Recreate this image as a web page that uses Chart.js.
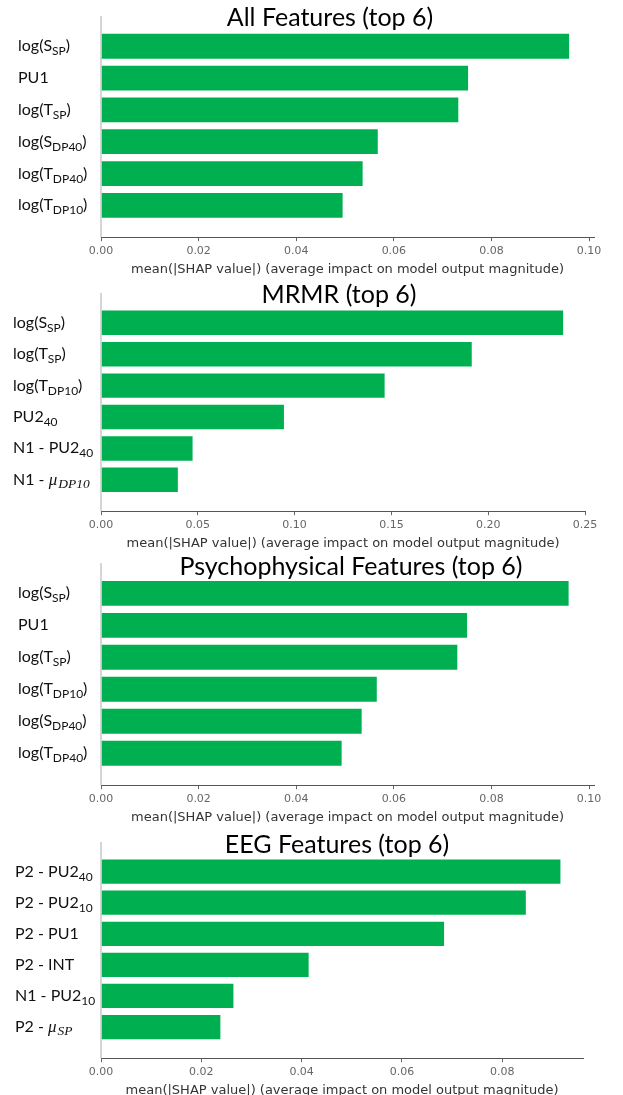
<!DOCTYPE html>
<html lang="en">
<head>
  <meta charset="UTF-8">
  <title>SHAP feature importance (top 6)</title>
  <script src="https://cdn.jsdelivr.net/npm/chart.js"></script>
  <style>
    html, body { margin: 0; padding: 0; background: #fff; }
    .panel { position: absolute; left: 0; width: 623px; }
  </style>
</head>
<body>
  <div class="panel" id="p0"><canvas id="c0"></canvas></div>
  <div class="panel" id="p1"><canvas id="c1"></canvas></div>
  <div class="panel" id="p2"><canvas id="c2"></canvas></div>
  <div class="panel" id="p3"><canvas id="c3"></canvas></div>

  <script>
    // labels use a small markup: _{..} = subscript, $..$ = math italic
    const allLabels = ['log(S_{SP})', 'PU1', 'log(T_{SP})', 'log(S_{DP40})', 'log(T_{DP40})', 'log(T_{DP10})'];
    const allValues = [0.0959, 0.0752, 0.0732, 0.0567, 0.0536, 0.0495];

    const mrmrLabels = ['log(S_{SP})', 'log(T_{SP})', 'log(T_{DP10})', 'PU2_{40}', 'N1 - PU2_{40}', 'N1 - $μ_{DP10}$'];
    const mrmrValues = [0.2387, 0.1915, 0.1465, 0.0945, 0.0473, 0.0397];

    const psychLabels = ['log(S_{SP})', 'PU1', 'log(T_{SP})', 'log(T_{DP10})', 'log(S_{DP40})', 'log(T_{DP40})'];
    const psychValues = [0.0958, 0.0750, 0.0730, 0.0565, 0.0534, 0.0493];

    const eegLabels = ['P2 - PU2_{40}', 'P2 - PU2_{10}', 'P2 - PU1', 'P2 - INT', 'N1 - PU2_{10}', 'P2 - $μ_{SP}$'];
    const eegValues = [0.0916, 0.0847, 0.0684, 0.0414, 0.0264, 0.0238];

    const xAxisTitle = 'mean(|SHAP value|) (average impact on model output magnitude)';

    // layout of each panel on the page (px)
    const panels = [
      { title: 'All Features (top 6)', labels: allLabels, values: allValues, xMax: 0.101, xStep: 0.02,
        top: 0, spineTop: 16, axisY: 238, right: 594, titleX: 330, titleY: 18, labelX: 18 },
      { title: 'MRMR (top 6)', labels: mrmrLabels, values: mrmrValues, xMax: 0.25, xStep: 0.05,
        top: 280, spineTop: 293, axisY: 512, right: 585, titleX: 339, titleY: 295, labelX: 13 },
      { title: 'Psychophysical Features (top 6)', labels: psychLabels, values: psychValues, xMax: 0.101, xStep: 0.02,
        top: 550, spineTop: 563, axisY: 786, right: 594, titleX: 351, titleY: 567, labelX: 18 },
      { title: 'EEG Features (top 6)', labels: eegLabels, values: eegValues, xMax: 0.0961, xStep: 0.02,
        top: 820, spineTop: 842, axisY: 1059, right: 583, titleX: 337, titleY: 845, labelX: 15 }
    ];

    const LABEL_FONT = 'Lato';
    const MATH_FONT = '"Liberation Serif"';
    const X_AXIS_HEIGHT = 39;
    const BOTTOM_PAD = 8;

    function parseLabel(str) {
      const parts = [];
      let buf = '';
      let math = false;
      let i = 0;
      const flush = function () {
        if (buf) parts.push({ text: buf, sub: false, math: math });
        buf = '';
      };
      while (i < str.length) {
        const c = str[i];
        if (c === '$') { flush(); math = !math; i++; continue; }
        if (c === '_' && str[i + 1] === '{') {
          flush();
          const end = str.indexOf('}', i);
          parts.push({ text: str.slice(i + 2, end), sub: true, math: math });
          i = end + 1;
          continue;
        }
        buf += c;
        i++;
      }
      flush();
      return parts;
    }

    function partFont(p) {
      if (p.math) return 'italic ' + (p.sub ? 13.5 : 17) + 'px ' + MATH_FONT;
      return (p.sub ? 12 : 16) + 'px ' + LABEL_FONT;
    }

    // draws title, left spine and the rich y labels
    const decorPlugin = {
      id: 'decor',
      afterDraw(chart, args, opts) {
        const ctx = chart.ctx;
        const area = chart.chartArea;
        const yScale = chart.scales.y;

        ctx.save();
        // left spine
        ctx.strokeStyle = '#c8c8c8';
        ctx.lineWidth = 1.5;
        ctx.beginPath();
        ctx.moveTo(area.left, area.top);
        ctx.lineTo(area.left, area.bottom);
        ctx.stroke();

        // title
        ctx.fillStyle = '#000';
        ctx.font = '25px ' + LABEL_FONT;
        ctx.textAlign = 'center';
        ctx.textBaseline = 'middle';
        ctx.fillText(opts.title, opts.titleX, opts.titleY);

        // y labels
        ctx.textAlign = 'left';
        ctx.textBaseline = 'alphabetic';
        opts.labels.forEach(function (lab, i) {
          const yc = yScale.getPixelForValue(i);
          const base = yc + 5;
          let x = opts.labelX;
          parseLabel(lab).forEach(function (p) {
            ctx.font = partFont(p);
            ctx.fillStyle = '#111';
            ctx.fillText(p.text, x, p.sub ? base + (p.math ? 3 : 4) : base);
            x += ctx.measureText(p.text).width + (p.math && !p.sub ? 1 : 0);
          });
        });
        ctx.restore();
      }
    };

    panels.forEach(function (pn, k) {
      const box = document.getElementById('p' + k);
      const height = pn.axisY - pn.top + X_AXIS_HEIGHT + BOTTOM_PAD;
      box.style.top = pn.top + 'px';
      box.style.height = height + 'px';

      new Chart(document.getElementById('c' + k), {
        type: 'bar',
        data: {
          datasets: [{
            data: pn.values.map(function (v, i) { return { x: v, y: i }; }),
            backgroundColor: '#00b050',
            borderWidth: 0,
            barPercentage: 0.82,
            categoryPercentage: 1
          }]
        },
        options: {
          indexAxis: 'y',
          responsive: true,
          maintainAspectRatio: false,
          animation: false,
          layout: { padding: { top: pn.spineTop - pn.top, bottom: BOTTOM_PAD, left: 101, right: 623 - pn.right } },
          plugins: {
            legend: { display: false },
            tooltip: { enabled: false },
            decor: { title: pn.title, titleX: pn.titleX, titleY: pn.titleY - pn.top, labels: pn.labels, labelX: pn.labelX }
          },
          scales: {
            y: {
              type: 'linear',
              reverse: true,
              offset: false,
              min: -0.95,
              max: 6.0,
              display: false
            },
            x: {
              type: 'linear',
              min: 0,
              max: pn.xMax,
              grid: { drawOnChartArea: false, drawTicks: true, tickLength: 4, color: '#666' },
              border: { color: '#555', width: 1 },
              ticks: {
                stepSize: pn.xStep,
                includeBounds: false,
                padding: 3,
                color: '#666',
                font: { family: 'DejaVu Sans', size: 11 },
                callback: function (v) { return Number(v).toFixed(2); }
              },
              title: {
                display: true,
                text: xAxisTitle,
                color: '#333',
                font: { family: 'DejaVu Sans', size: 13 },
                padding: { top: 1, bottom: 0 }
              }
            }
          }
        },
        plugins: [decorPlugin]
      });
    });
  </script>
</body>
</html>
